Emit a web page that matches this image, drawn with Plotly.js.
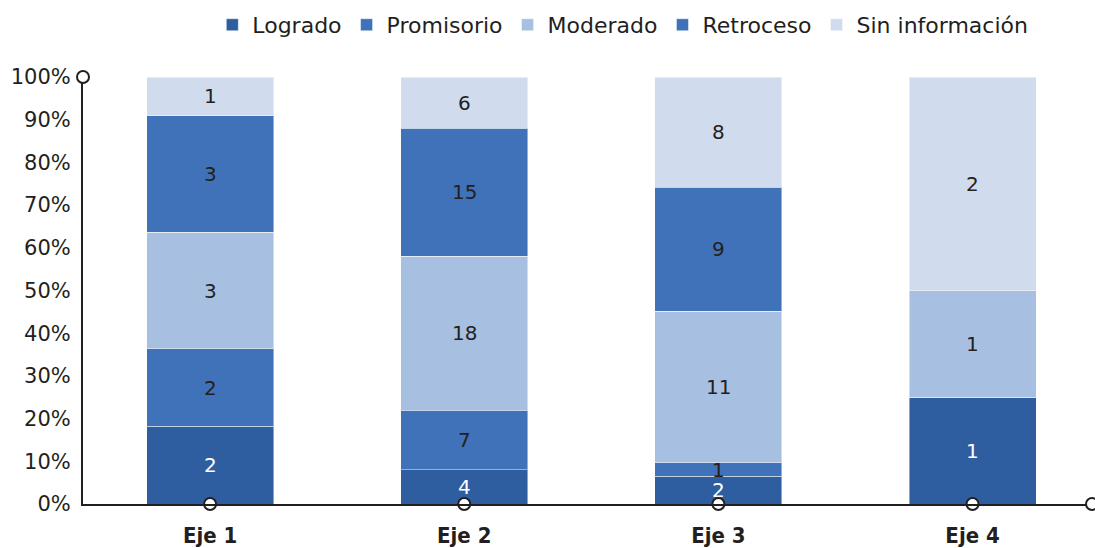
<!DOCTYPE html>
<html>
<head>
<meta charset="utf-8">
<script src="https://cdn.plot.ly/plotly-3.0.1.min.js"></script>
<style>html,body{margin:0;padding:0;background:#fff;}#chart{width:1095px;height:548px;}</style>
</head>
<body>
<div id="chart"></div>
<script>
const categories = ['Eje 1', 'Eje 2', 'Eje 3', 'Eje 4'];
const seriesNames = ['Logrado', 'Promisorio', 'Moderado', 'Retroceso', 'Sin información'];
const logrado = [2, 4, 2, 1];
const promisorio = [2, 7, 1, 0];
const moderado = [3, 18, 11, 1];
const retroceso = [3, 15, 9, 0];
const sinInformacion = [1, 6, 8, 2];

const seriesValues = [logrado, promisorio, moderado, retroceso, sinInformacion];
const colors = ['#2E5E9F', '#3F72B8', '#A7BFE0', '#3F72B8', '#D0DCEE'];
const textColors = ['#ffffff', '#231F20', '#231F20', '#231F20', '#231F20'];
const FONT = 'DejaVu Sans, Open Sans, sans-serif';

const traces = seriesNames.map((name, i) => ({
  type: 'bar',
  name: name,
  x: categories,
  y: seriesValues[i],
  marker: {color: colors[i], line: {color: 'rgba(255,255,255,0.45)', width: 1}},
  hoverinfo: 'skip'
}));

traces.push({
  type: 'scatter',
  mode: 'markers',
  x: categories,
  y: categories.map(() => 0),
  marker: {symbol: 'circle', size: 12, color: '#ffffff', line: {color: '#231F20', width: 2}},
  cliponaxis: false,
  showlegend: false,
  hoverinfo: 'skip'
});

// value labels at the middle of each stacked segment (percent scale)
const annotations = [];
categories.forEach((cat, c) => {
  const total = seriesValues.reduce((s, arr) => s + arr[c], 0);
  let cum = 0;
  seriesValues.forEach((arr, i) => {
    const v = arr[c];
    if (v > 0) {
      const pct = v / total * 100;
      annotations.push({
        x: cat, y: cum + pct / 2, xref: 'x', yref: 'y',
        text: String(v), showarrow: false,
        font: {family: FONT, size: 20, color: textColors[i]}
      });
      cum += pct;
    }
  });
});

const circle = (x, y) => ({
  type: 'circle', xref: 'paper', yref: 'paper',
  xsizemode: 'pixel', ysizemode: 'pixel',
  xanchor: x, yanchor: y, x0: -6, x1: 6, y0: -6, y1: 6,
  fillcolor: '#ffffff', line: {color: '#231F20', width: 2}, layer: 'above'
});

const layout = {
  width: 1095, height: 548,
  margin: {l: 83, r: 3, t: 77, b: 44},
  paper_bgcolor: '#ffffff', plot_bgcolor: '#ffffff',
  barmode: 'stack', barnorm: 'percent', bargap: 0.5,
  showlegend: true,
  legend: {
    orientation: 'h', x: 0.535, xanchor: 'center', y: 1.122, yanchor: 'middle',
    font: {family: FONT, size: 22, color: '#231F20'},
    itemwidth: 30, traceorder: 'normal', tracegroupgap: 0
  },
  xaxis: {
    type: 'category', range: [-0.5, 3.47],
    showline: true, linecolor: '#231F20', linewidth: 2,
    showgrid: false, zeroline: false,
    ticks: 'outside', ticklen: 11, tickcolor: 'rgba(0,0,0,0)',
    tickfont: {family: 'DejaVu Sans Condensed, Liberation Sans Narrow, Roboto Condensed, sans-serif', size: 22, color: '#231F20', weight: 'bold'},
    fixedrange: true
  },
  yaxis: {
    range: [0, 100], dtick: 10, ticksuffix: '%',
    showline: true, linecolor: '#231F20', linewidth: 2,
    showgrid: false, zeroline: false,
    ticks: 'outside', ticklen: 6, tickcolor: 'rgba(0,0,0,0)',
    tickfont: {family: FONT, size: 21, color: '#231F20'},
    fixedrange: true
  },
  annotations: annotations,
  shapes: [circle(0, 1), circle(1, 0)]
};

Plotly.newPlot('chart', traces, layout, {displayModeBar: false, staticPlot: true});
</script>
</body>
</html>
